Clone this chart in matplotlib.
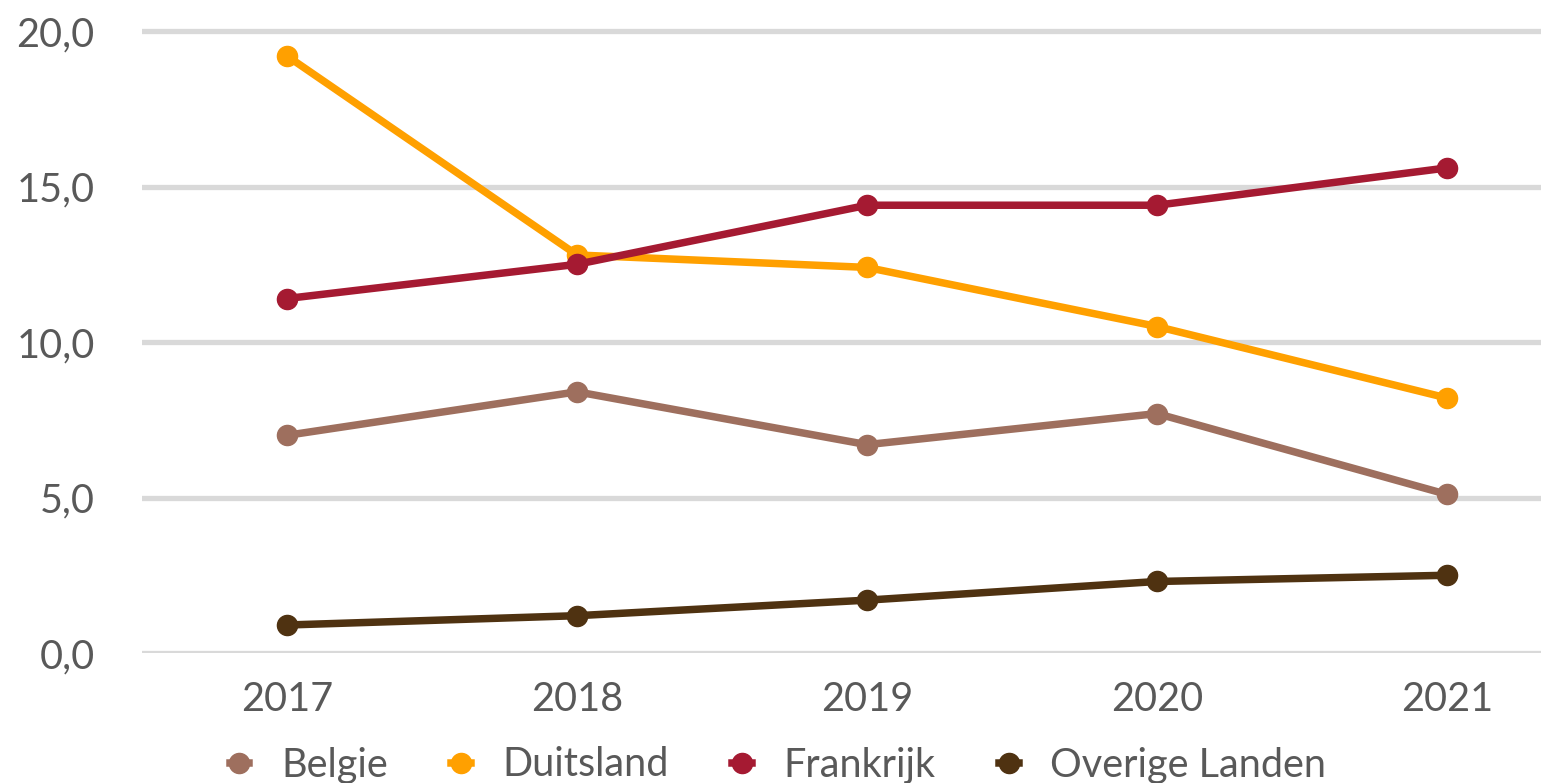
import matplotlib
matplotlib.use("Agg")
import matplotlib.pyplot as plt
from matplotlib.lines import Line2D

years = ["2017", "2018", "2019", "2020", "2021"]
belgie = [7.0, 8.4, 6.7, 7.7, 5.1]
duitsland = [19.2, 12.8, 12.4, 10.5, 8.2]
frankrijk = [11.4, 12.5, 14.4, 14.4, 15.6]
overige = [0.9, 1.2, 1.7, 2.3, 2.5]
series_names = ["Belgie", "Duitsland", "Frankrijk", "Overige Landen"]
yticks = [0, 5, 10, 15, 20]

colors = ["#9e6f5e", "#ffa000", "#a51a32", "#4f3211"]
series = [belgie, duitsland, frankrijk, overige]

plt.rcParams['font.family'] = ['Lato', 'DejaVu Sans']
W, H = 1541, 783
fig = plt.figure(figsize=(W / 100, H / 100), dpi=100)
left = 142 / W
right_px = 1592
bottom = (H - 653) / H
ax = fig.add_axes([left, bottom, (right_px - 142) / W, 653 / H])

x = list(range(len(years)))
for vals, c, name in zip(series, colors, series_names):
    ax.plot(x, vals, color=c, lw=5.4, marker='o', ms=14.5, label=name,
            solid_capstyle='round', zorder=3, clip_on=False)

ax.set_xlim(-0.5, len(years) - 0.5)
ax.set_ylim(0, 21)
ax.set_yticks(yticks)
ax.set_yticklabels([f"{v:.1f}".replace('.', ',') for v in yticks])
ax.set_xticks(x)
ax.set_xticklabels(years)
ax.grid(axis='y', color='#d9d9d9', lw=3.8, zorder=0)
ax.set_axisbelow(True)
for s in ax.spines.values():
    s.set_visible(False)
ax.tick_params(axis='both', length=0, labelsize=28.5, colors='#595959')
ax.tick_params(axis='y', pad=34)
ax.tick_params(axis='x', pad=20)

handles = [Line2D([0], [0], color=c, lw=5.4, marker='o', ms=14.5) for c in colors]
fig.legend(handles, series_names, loc='center', bbox_to_anchor=(778 / W, 1 - 765 / H),
           ncol=4, frameon=False, fontsize=28.5, labelcolor='#595959',
           handlelength=0.5, handletextpad=0.8, columnspacing=1.6, borderaxespad=0)

fig.savefig("out.png", dpi=100)
